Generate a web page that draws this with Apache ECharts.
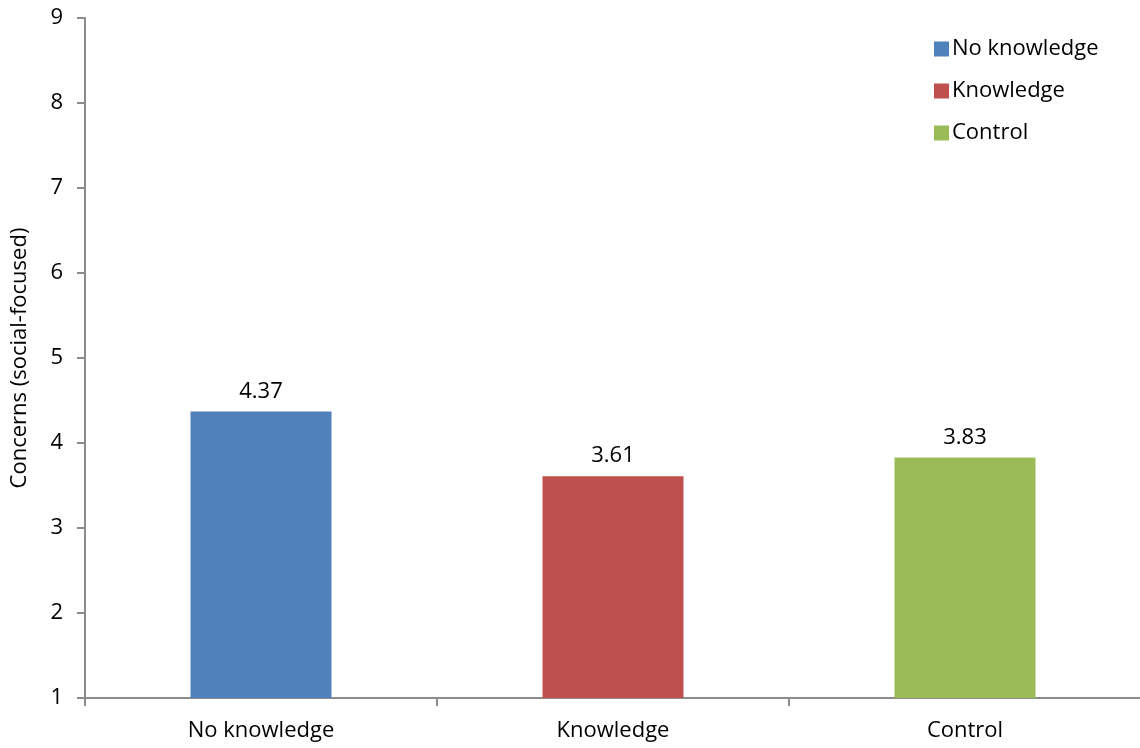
<!DOCTYPE html>
<html>
<head>
<meta charset="utf-8">
<script src="https://cdn.jsdelivr.net/npm/echarts@6/dist/echarts.min.js"></script>
<style>
  html, body { margin: 0; padding: 0; background: #fff; }
  #chart { width: 1140px; height: 748px; }
</style>
</head>
<body>
<div id="chart"></div>
<script>
// Datos
const categorias = ['No knowledge', 'Knowledge', 'Control'];
const noKnowledge = [4.37, '-', '-'];
const knowledge = ['-', 3.61, '-'];
const control = ['-', '-', 3.83];
const ejeY = { min: 1, max: 9, interval: 1 };

const myChart = echarts.init(document.getElementById('chart'));
const fuente = 'Open Sans';
const tam = 22;

function serie(nombre, datos, color) {
    return {
        name: nombre,
        type: 'bar',
        data: datos,
        barWidth: 141,
        barGap: '-100%',
        itemStyle: { color: color },
        label: {
            show: true,
            position: 'top',
            distance: 9,
            color: '#000',
            fontSize: tam,
            fontFamily: fuente,
            formatter: p => p.value.toFixed(2)
        }
    };
}

let option = {
    animation: false,
    textStyle: { fontFamily: fuente },
    grid: { left: 85, top: 18, width: 1056, height: 680, outerBoundsMode: 'none', containLabel: false },
    legend: {
        orient: 'vertical',
        left: 929,
        top: 33,
        itemWidth: 15,
        itemHeight: 15,
        itemGap: 20,
        icon: 'rect',
        textStyle: { fontSize: tam, color: '#000', fontFamily: fuente, padding: [0, 0, 0, -2] },
        data: ['No knowledge', 'Knowledge', 'Control']
    },
    xAxis: {
        type: 'category',
        data: categorias,
        axisLine: { lineStyle: { color: '#8c8c8c', width: 2 } },
        axisTick: { show: true, length: 8, lineStyle: { color: '#8c8c8c', width: 2 } },
        axisLabel: { fontSize: tam, color: '#000', margin: 22, fontFamily: fuente }
    },
    yAxis: {
        type: 'value',
        min: ejeY.min,
        max: ejeY.max,
        interval: ejeY.interval,
        name: 'Concerns (social-focused)',
        nameLocation: 'middle',
        nameGap: 54,
        nameTextStyle: { fontSize: tam, color: '#000', fontFamily: fuente },
        axisLine: { show: true, lineStyle: { color: '#8c8c8c', width: 2 } },
        axisTick: { show: true, length: 8, lineStyle: { color: '#8c8c8c', width: 2 } },
        axisLabel: { fontSize: tam, color: '#000', margin: 22, fontFamily: fuente },
        splitLine: { show: false }
    },
    series: [
        serie('No knowledge', noKnowledge, '#4F81BD'),
        serie('Knowledge', knowledge, '#C0504D'),
        serie('Control', control, '#9BBB59')
    ]
};

myChart.setOption(option);
</script>
</body>
</html>
